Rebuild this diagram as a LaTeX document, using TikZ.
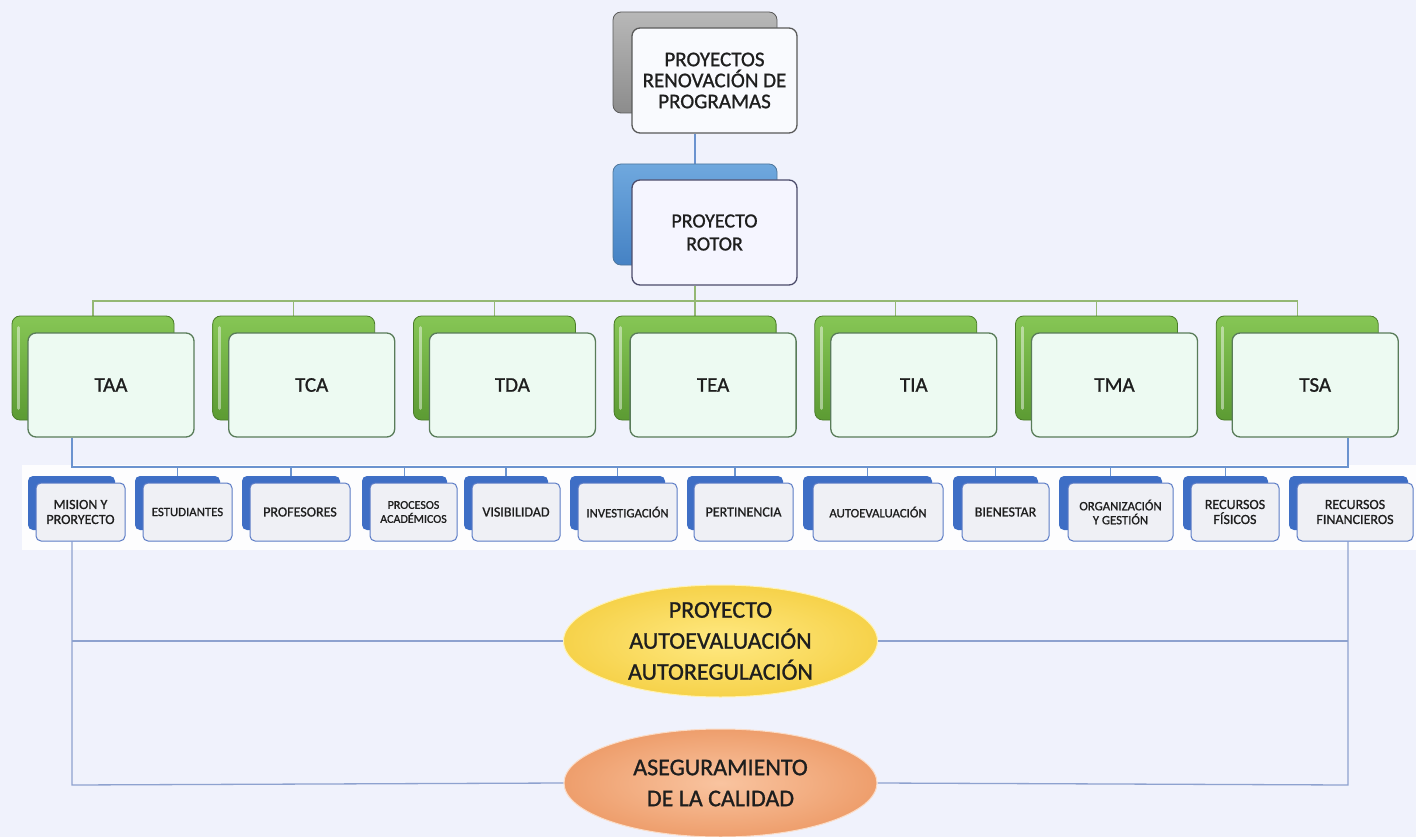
\documentclass[tikz,border=0pt]{standalone}
\usepackage{fontspec}
\setmainfont{Carlito}[BoldFont=Carlito, BoldFeatures={FakeBold=1.0}]
\usetikzlibrary{shapes.geometric}
\pgfdeclarelayer{bg}
\pgfdeclarelayer{lines}
\pgfsetlayers{bg,lines,main}
\definecolor{bgc}{HTML}{F0F2FC}
\definecolor{txt}{HTML}{1E1E1E}
\definecolor{grayback}{HTML}{A6A6A6}
\definecolor{grayback2}{HTML}{8C8C8C}
\definecolor{blueback}{HTML}{6FA8DE}
\definecolor{blueback2}{HTML}{4582C4}
\definecolor{greenback}{HTML}{86C655}
\definecolor{greenback2}{HTML}{5C9B33}
\definecolor{smallback}{HTML}{3E6EC5}
\definecolor{smallfront}{HTML}{EFF0F5}
\definecolor{smallborder}{HTML}{5C7CC6}
\definecolor{gline}{HTML}{94B874}
\definecolor{bline}{HTML}{6B93CF}
\definecolor{lline}{HTML}{8EA2CF}
\definecolor{yel1}{HTML}{FFE982}
\definecolor{yel2}{HTML}{F6D24A}
\definecolor{ora1}{HTML}{F9C4A0}
\definecolor{ora2}{HTML}{EE9E6C}
\tikzset{
  x=1pt, y=-1pt,
  every node/.style={font=\fontsize{21}{21}\selectfont\bfseries, text=txt, align=center, inner sep=0pt},
  bigback/.style={rounded corners=8pt, minimum width=164pt, minimum height=101pt, draw=#1!70!black, line width=0.8pt},
  bigfront/.style={rounded corners=8pt, minimum width=165pt, minimum height=105pt, draw=#1, line width=1.3pt},
  gback/.style={rounded corners=8pt, minimum width=162pt, minimum height=104pt, top color=greenback, bottom color=greenback2, draw=greenback2!80!black, line width=0.8pt},
  gfront/.style={rounded corners=8pt, minimum width=166pt, minimum height=104pt, fill=white!92!green!60!bgc, draw=black!55!green!30!gray, line width=1.3pt, font=\fontsize{21}{21}\selectfont\bfseries},
  sback/.style={rounded corners=5pt, minimum height=54pt, fill=smallback, minimum width=#1},
  sfront/.style={rounded corners=5pt, minimum height=58pt, fill=smallfront, draw=smallborder, line width=1pt, minimum width=#1, font=\fontsize{14}{15}\selectfont\bfseries},
  ssmall/.style={font=\fontsize{12.8}{14}\selectfont\bfseries},
  conn/.style={line width=1.3pt},
}
\begin{document}
\begin{tikzpicture}
\useasboundingbox (0,0) rectangle (1416,837);
\begin{pgfonlayer}{bg}
  \fill[bgc] (0,0) rectangle (1416,837);
  \fill[white!85!bgc] (22,465) rectangle (1416,550);
\end{pgfonlayer}

% top boxes
\node[bigback=gray, top color=grayback!80!white, bottom color=grayback2] (topb) at (695,62.5) {};
\node[bigfront=black!65, fill=white!60!bgc] (topf) at (714.5,80.5) {PROYECTOS\\RENOVACIÓN DE\\PROGRAMAS};
\node[bigback=blueback, top color=blueback, bottom color=blueback2] (rotb) at (695,214.5) {};
\node[bigfront=black!70!blue!40!gray, fill=blue!4!white, font=\fontsize{20}{23}\selectfont\bfseries] (rotf) at (714.5,232.5) {PROYECTO\\ROTOR};

% green boxes
\foreach \n/\t [count=\i from 0] in {taa/TAA,tca/TCA,tda/TDA,tea/TEA,tia/TIA,tma/TMA,tsa/TSA}{
  \node[gback] (\n b) at ({93+\i*200.7},368) {};
  \draw[white, opacity=0.45, line width=3pt, line cap=round] ([xshift=7pt,yshift=-12pt]\n b.north west) -- ([xshift=7pt,yshift=12pt]\n b.south west);
  \node[gfront] (\n f) at ({111+\i*200.7},385) {\t};
}

% small boxes
\node[sback=87pt]  (s1b)  at (71.5,503) {};
\node[sfront=89pt] (s1f)  at (80.5,512) {MISION Y\\PRORYECTO};
\node[sback=85pt]  (s2b)  at (177.5,503) {};
\node[sfront=89pt, ssmall] (s2f) at (187.5,512) {ESTUDIANTES};
\node[sback=98pt]  (s3b)  at (291,503) {};
\node[sfront=100pt] (s3f) at (300,512) {PROFESORES};
\node[sback=85pt]  (s4b)  at (404.5,503) {};
\node[sfront=87pt, font=\fontsize{12}{14}\selectfont\bfseries] (s4f) at (413.5,512) {PROCESOS\\ACADÉMICOS};
\node[sback=84pt]  (s5b)  at (506,503) {};
\node[sfront=88pt] (s5f)  at (516,512) {VISIBILIDAD};
\node[sback=95pt]  (s6b)  at (617.5,503) {};
\node[sfront=99pt, ssmall] (s6f) at (627.5,512) {INVESTIGACIÓN};
\node[sback=96pt]  (s7b)  at (735,503) {};
\node[sfront=99pt] (s7f)  at (743.5,512) {PERTINENCIA};
\node[sback=129pt] (s8b)  at (867.5,503) {};
\node[sfront=130pt, ssmall] (s8f) at (878,512) {AUTOEVALUACIÓN};
\node[sback=85pt]  (s9b)  at (995.5,503) {};
\node[sfront=87pt] (s9f)  at (1005.5,512) {BIENESTAR};
\node[sback=103pt] (s10b) at (1110.5,503) {};
\node[sfront=105pt, ssmall] (s10f) at (1120.5,512) {ORGANIZACIÓN\\Y GESTIÓN};
\node[sback=85pt]  (s11b) at (1225.5,503) {};
\node[sfront=88pt] (s11f) at (1235,512) {RECURSOS\\FÍSICOS};
\node[sback=119pt] (s12b) at (1348.5,503) {};
\node[sfront=116pt] (s12f) at (1355,512) {RECURSOS\\FINANCIEROS};

% ellipses
\node[ellipse, minimum width=314pt, minimum height=112pt, inner color=yel1, outer color=yel2, draw=yel1!60!white, line width=1pt, font=\fontsize{24}{31}\selectfont\bfseries] (e1) at (720.5,641) {PROYECTO\\AUTOEVALUACIÓN\\AUTOREGULACIÓN};
\node[ellipse, minimum width=313pt, minimum height=108pt, inner color=ora1, outer color=ora2, draw=ora1!60!white, line width=1pt, font=\fontsize{24}{31}\selectfont\bfseries] (e2) at (720.5,783) {ASEGURAMIENTO\\DE LA CALIDAD};

% connectors
\coordinate (gbar) at (695,301);
\coordinate (bl) at (72,467);
\coordinate (br) at (1348,467);
\coordinate (ll) at (72,785);
\coordinate (lr) at (1348,785);
\begin{pgfonlayer}{lines}
  \draw[conn, bline] (topf.south -| rotb.north) -- (rotb.north);
  \draw[conn, gline] (rotf.south -| gbar) -- (gbar);
  \foreach \n in {taa,tca,tda,tea,tia,tma,tsa}{
    \draw[conn, gline] (gbar) -| (\n b.north);
  }
  \draw[conn, bline] (taaf.south -| bl) -- (bl) -- (br) -- (tsaf.south -| br);
  \foreach \k in {2,...,11}{
    \draw[conn, bline] (s\k b.north |- bl) -- (s\k b.north);
  }
  \draw[conn, lline] (s1f.south -| bl) -- (ll) -- (e2.west);
  \draw[conn, lline] (e1.west -| bl) -- (e1.west);
  \draw[conn, lline] (s12f.south -| br) -- (lr) -- (e2.east);
  \draw[conn, lline] (e1.east) -- (e1.east -| br);
\end{pgfonlayer}
\end{tikzpicture}
\end{document}
